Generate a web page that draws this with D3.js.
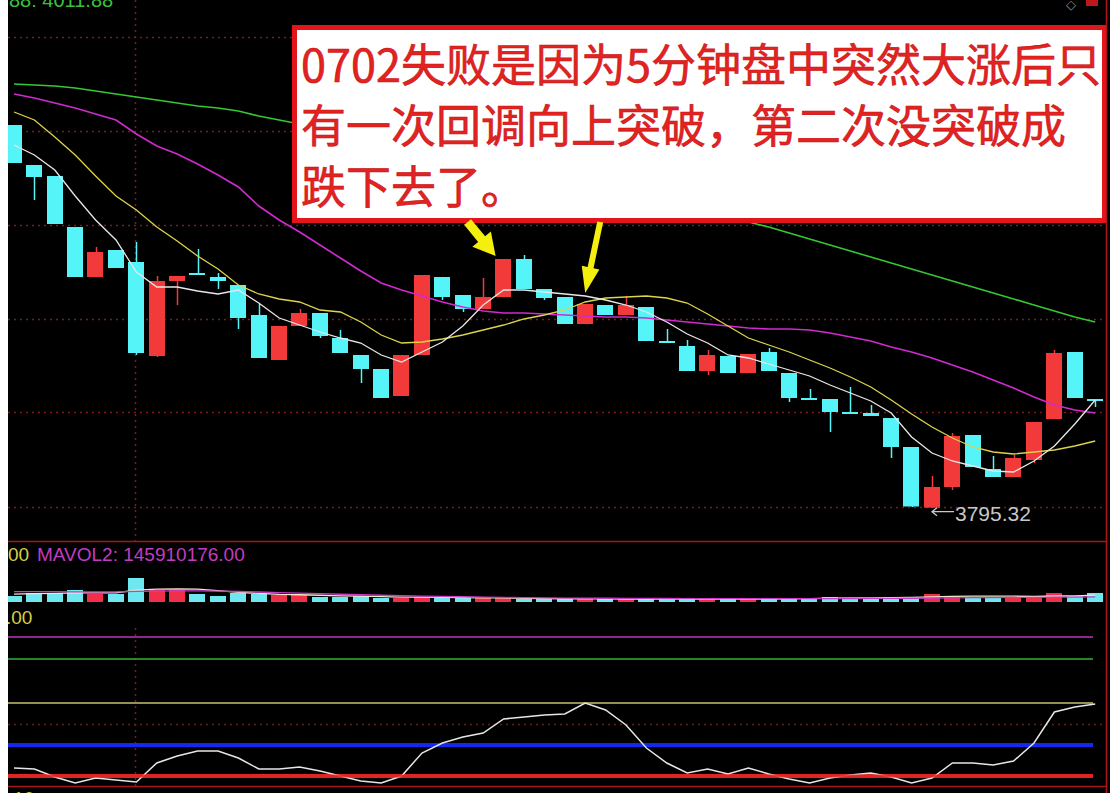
<!DOCTYPE html>
<html><head><meta charset="utf-8">
<script src="https://cdn.jsdelivr.net/npm/d3@7"></script>
<style>html,body{margin:0;padding:0;background:#000;overflow:hidden}</style>
</head><body>
<svg id="c" width="1110" height="793"></svg>
<script>
// ---------- data ----------
const opens  = [4178,4138,4127,4076,4026,4053,4041,3947,4022,4030, 4026,4018,3988,3943,3977,3990,3965,3948,3934,3907,
                3948,4026,4008,3994,4006,4044,4014,4006,3979,3998, 3988,3996,3962,3957,3932,3947,3930,3951,3930,3905,
                3904,3891,3890,3885,3856,3795.32,3816,3868,3834,3826, 3843,3884,3951,3904];
const highs  = [4178,4138,4127,4076,4056,4053,4061,4027,4027,4054, 4030,4018,3999,3977,3994,3990,3973,3948,3934,3948,
                4028,4026,4008,4025,4044,4048,4014,4006,3999,3998, 4007,3996,3974,3963,3953,3947,3949,3955,3930,3914,
                3904,3916,3898,3885,3856,3827,3870,3868,3847,3848, 3881,3953,3951,3904];
const lows   = [4140,4103,4079,4026,4026,4035,3948,3946,3998,4028, 4014,3974,3945,3943,3977,3965,3950,3920,3905,3907,
                3948,4003,3991,3994,4006,4014,4003,3979,3979,3988, 3988,3962,3960,3932,3928,3930,3930,3932,3901,3903,
                3871,3889,3887,3845,3796,3795.32,3813,3836,3826,3826, 3840,3884,3905,3896];
const closes = [4140,4126,4079,4026,4051,4035,3950,4022,4027,4028, 4022,3985,3945,3977,3990,3967,3950,3934,3905,3948,
                4028,4006,3994,4006,4044,4014,4005,3979,3999,3988, 3998,3962,3960,3932,3948,3930,3949,3932,3905,3903,
                3891,3889,3887,3856,3796.5,3816,3867,3836,3826,3845, 3881,3950,3905,3903];
const ma5  = [4158,4148,4133,4107,4083,4063,4031,4016,4016,4012, 4009,4013,4000,3985,3978,3971,3965,3960,3948,3941,
              3951,3961,3977,3998,4013,4013,4011,4009,4007,4003, 3998,3991,3981,3969,3960,3948,3945,3939,3933,3927,
              3918,3910,3902,3890,3866,3850,3842,3837,3832,3831, 3842,3857,3879,3903];
const ma10 = [4191,4183,4166,4148,4127,4107,4093,4076,4062,4047, 4034,4018,4009,4004,4001,3993,3991,3981,3968,3960,
              3961,3964,3968,3973,3978,3984,3988,3993,4001,4005, 4006,4007,4005,4000,3989,3977,3965,3958,3951,3943,
              3935,3926,3916,3903,3889,3876,3865,3856,3851,3849, 3851,3853,3857,3862];
const ma20 = [4209,4205,4200,4195,4189,4183,4169,4157,4149,4139, 4128,4116,4097,4083,4071,4058,4045,4032,4020,4013,
              4007,4001,3996,3992,3990,3990,3989,3988,3987,3986, 3986,3985,3983,3981,3979,3977,3975,3974,3974,3973,
              3970,3966,3962,3956,3951,3945,3938,3931,3923,3915, 3906,3898,3893,3890];
const ma60 = [4219,4218,4217,4215,4212,4209,4206,4203,4200,4197, 4195,4192,4187,4183,4179,4175,4171,4167,4163,4158,
              4154,4150,4145,4141,4136,4132,4127,4122,4117,4112, 4107,4103,4098,4094,4090,4085,4081,4076,4070,4064,
              4058,4052,4046,4040,4034,4028,4022,4016,4010,4004, 3998,3992,3986,3981];
const volumes = [174,261,261,348,232,232,696,348,348,232, 174,261,232,203,203,145,145,174,116,116,
                 145,116,116,116,116,87,87,87,87,87, 87,87,87,87,87,87,87,87,116,116,
                 145,116,116,145,145,232,174,145,145,145, 145,261,174,261];
const mavol1 = [230,240,250,262,265,268,342,371,380,371, 330,280,250,220,210,195,180,170,155,140,
                140,135,125,120,118,108,100,94,90,88, 87,87,87,87,87,87,87,87,93,99,
                110,116,122,128,133,150,163,168,168,168, 160,174,174,197];
const mavol2 = [300,300,298,296,294,292,310,318,322,320, 315,305,290,270,255,240,225,210,195,182,
                172,162,152,142,132,124,118,113,110,108, 106,104,102,100,98,96,95,95,96,97,
                99,101,103,106,109,115,120,125,129,133, 136,140,143,145.9];
const oscValues = [8,7,-1,-7,-2,-4,-6,13,20,25, 25,18,7,7,9,5,0,-5,-7,0,
                   23,33,39,43,57,59,61,62,73,66, 51,28,13,3,7,2,8,2,-3,-7,
                   -2,1,3,-1,-7,-2,13,13,11,15, 33,64,69,72];
const oscLevels = [139,117,73,31,0];
const oscLevelColors = ["#c030c0","#34b034","#c8c070","#1428f0","#e02424"];
const oscLevelWidths = [1.5,1.5,1.5,4,4];
const oscGrid = 52;
const gridPrices = [4266,4172,4078,3984,3891,3796];
const noteLines = ["0702失败是因为5分钟盘中突然大涨后只","有一次回调向上突破，第二次没突破成","跌下去了。"];
const lowLabel = "3795.32";
const topLabel = "88: 4011.88";
const volTitle = "MAVOL2: 145910176.00";

// ---------- drawing ----------
const svg = d3.select('#c');
const n = opens.length;
svg.append('rect').attr('width',1110).attr('height',793).attr('fill','#000');

const x = d3.scaleBand().domain(d3.range(n)).range([3.8,1105.4]).paddingInner(0.2).paddingOuter(0.1);
const xc = i => x(i) + x.bandwidth()/2;
const y = d3.scaleLinear().domain([3762,4303]).range([541,0]);
const vy = d3.scaleLinear().domain([0,1000]).range([602,567.5]);
const oy = d3.scaleLinear().domain([-10,156]).range([786,620]);

const defs = svg.append('defs');
defs.append('clipPath').attr('id','mainclip').append('rect').attr('x',8).attr('y',0).attr('width',1098).attr('height',541);

const gridCol = '#7a1c1c';
// main grid
const main = svg.append('g').attr('clip-path','url(#mainclip)');
main.selectAll('line.g').data(gridPrices).join('line')
  .attr('x1',8).attr('x2',1106).attr('y1',d=>Math.round(y(d))+0.5).attr('y2',d=>Math.round(y(d))+0.5)
  .attr('stroke',gridCol).attr('stroke-width',1.5).attr('stroke-dasharray','2 4');
main.append('line').attr('x1',135.5).attr('x2',135.5).attr('y1',0).attr('y2',541)
  .attr('stroke',gridCol).attr('stroke-width',1.5).attr('stroke-dasharray','2 4');

const up = i => closes[i] >= opens[i];
const CY = '#54f4f8', RD = '#f23a3a';
const cg = main.append('g');
cg.selectAll('line.w').data(d3.range(n)).join('line')
  .attr('x1',i=>Math.round(xc(i))+0.5).attr('x2',i=>Math.round(xc(i))+0.5)
  .attr('y1',i=>y(highs[i])).attr('y2',i=>y(lows[i]))
  .attr('stroke',i=>up(i)?RD:CY).attr('stroke-width',1.5);
cg.selectAll('rect.b').data(d3.range(n)).join('rect')
  .attr('x',i=>Math.round(x(i))).attr('width',Math.round(x.bandwidth()))
  .attr('y',i=>y(Math.max(opens[i],closes[i])))
  .attr('height',i=>Math.max(2,Math.abs(y(opens[i])-y(closes[i]))))
  .attr('fill',i=>up(i)?RD:CY);

const line = arr => d3.line().x((d,i)=>xc(i)).y(d=>y(d))(arr);
main.append('path').attr('d',line(ma60)).attr('fill','none').attr('stroke','#34c834').attr('stroke-width',1.6);
main.append('path').attr('d',line(ma20)).attr('fill','none').attr('stroke','#d02ad0').attr('stroke-width',1.6);
main.append('path').attr('d',line(ma10)).attr('fill','none').attr('stroke','#dcd44a').attr('stroke-width',1.3);
main.append('path').attr('d',line(ma5)).attr('fill','none').attr('stroke','#e8e8e8').attr('stroke-width',1.3);

// top partial label
svg.append('text').attr('x',9).attr('y',7).attr('fill','#3cc03c')
  .attr('font-family','Liberation Sans, Arial, sans-serif').attr('font-size',20).text(topLabel);

// annotation box
svg.append('rect').attr('x',294.5).attr('y',27.5).attr('width',810).attr('height',193)
  .attr('fill','#ffffff').attr('stroke','#e3141a').attr('stroke-width',5);
svg.selectAll('text.note').data(noteLines).join('text')
  .attr('x',301).attr('y',(d,i)=>62+i*61).attr('dominant-baseline','central')
  .attr('font-family','Noto Sans CJK SC, sans-serif').attr('font-size',45)
  .attr('fill','#e2231f').attr('stroke','#c8141a').attr('stroke-width',0.6)
  .text(d=>d);

// arrows pointing at candles 25 and 29
function arrow(tail, tip, sw, hw, hl){
  const dx=tip[0]-tail[0], dy=tip[1]-tail[1], L=Math.hypot(dx,dy);
  const ux=dx/L, uy=dy/L, px=-uy, py=ux;
  const bx=tip[0]-ux*hl, by=tip[1]-uy*hl;
  const pts=[[tail[0]+px*sw,tail[1]+py*sw],[bx+px*sw,by+py*sw],[bx+px*hw,by+py*hw],tip,
             [bx-px*hw,by-py*hw],[bx-px*sw,by-py*sw],[tail[0]-px*sw,tail[1]-py*sw]];
  svg.append('polygon').attr('points',pts.map(p=>p.join(',')).join(' ')).attr('fill','#f4ef0c');
}
const tip1=[xc(24)-8, y(highs[24])-3];
arrow([tip1[0]-28, tip1[1]-34], tip1, 4.5, 12, 22);
const tip2=[xc(28), y(highs[28])-11];
arrow([tip2[0]+15, tip2[1]-71], tip2, 3, 9, 26);

// low label
const lx = xc(45), ly = y(3795.32);
const lg = svg.append('g').attr('stroke','#c8c8c8').attr('stroke-width',1.3).attr('fill','none');
lg.append('path').attr('d',`M${lx+22},${ly+4} L${lx},${ly+4} M${lx+5},${ly} L${lx},${ly+4} L${lx+5},${ly+8}`);
svg.append('text').attr('x',lx+23).attr('y',ly+13).attr('fill','#c8c8c8')
  .attr('font-family','Liberation Sans, Arial, sans-serif').attr('font-size',21).text(lowLabel);

// panel separators
svg.append('line').attr('x1',8).attr('x2',1106).attr('y1',541.5).attr('y2',541.5).attr('stroke','#a8161a').attr('stroke-width',1.5);

// volume panel
svg.append('text').attr('x',8).attr('y',561).attr('fill','#d6d040')
  .attr('font-family','Liberation Sans, Arial, sans-serif').attr('font-size',19).text('00');
svg.append('text').attr('x',37).attr('y',561).attr('fill','#c23cc2')
  .attr('font-family','Liberation Sans, Arial, sans-serif').attr('font-size',19).text(volTitle);
svg.selectAll('rect.v').data(d3.range(n)).join('rect')
  .attr('x',i=>Math.round(x(i))).attr('width',Math.round(x.bandwidth()))
  .attr('y',i=>vy(volumes[i])).attr('height',i=>vy(0)-vy(volumes[i]))
  .attr('fill',i=>up(i)?'#f0304a':'#6ee8f0');
const vline = arr => d3.line().x((d,i)=>xc(i)).y(d=>vy(d))(arr);
svg.append('path').attr('d',vline(mavol1)).attr('fill','none').attr('stroke','#f0e8c8').attr('stroke-width',1.3);
svg.append('path').attr('d',vline(mavol2)).attr('fill','none').attr('stroke','#c83cc8').attr('stroke-width',1.3);

// indicator panel
svg.append('text').attr('x',6).attr('y',624).attr('fill','#d6d040')
  .attr('font-family','Liberation Sans, Arial, sans-serif').attr('font-size',19).text('.00');
svg.append('line').attr('x1',8).attr('x2',1106).attr('y1',Math.round(oy(oscGrid))+0.5).attr('y2',Math.round(oy(oscGrid))+0.5)
  .attr('stroke','#5a2418').attr('stroke-width',1.5).attr('stroke-dasharray','2 4');
svg.append('line').attr('x1',135.5).attr('x2',135.5).attr('y1',628).attr('y2',786)
  .attr('stroke',gridCol).attr('stroke-width',1.5).attr('stroke-dasharray','2 4');
const lv = svg.selectAll('line.lv').data(oscLevels).join('line')
  .attr('x1',8).attr('x2',1093).attr('y1',d=>oy(d)).attr('y2',d=>oy(d))
  .attr('stroke',(d,i)=>oscLevelColors[i]).attr('stroke-width',(d,i)=>oscLevelWidths[i]);
svg.append('path').attr('d',d3.line().x((d,i)=>xc(i)).y(d=>oy(d))(oscValues))
  .attr('fill','none').attr('stroke','#e6e6e6').attr('stroke-width',1.5);
// red level re-drawn above the oscillator line as in the picture
svg.append('line').attr('x1',8).attr('x2',1093).attr('y1',oy(0)).attr('y2',oy(0))
  .attr('stroke','#e02424').attr('stroke-width',3).attr('opacity',0.85);
svg.append('line').attr('x1',8).attr('x2',1106).attr('y1',786.5).attr('y2',786.5).attr('stroke','#a8161a').attr('stroke-width',1.5);
svg.append('text').attr('x',8).attr('y',805).attr('fill','#d6d040')
  .attr('font-family','Liberation Sans, Arial, sans-serif').attr('font-size',19).text('.10');

// right frame
svg.append('line').attr('x1',1106.5).attr('x2',1106.5).attr('y1',0).attr('y2',793).attr('stroke','#b0141a').attr('stroke-width',1.5);
svg.append('text').attr('x',1066).attr('y',9).attr('fill','#909090').attr('font-size',13).text('◇');
svg.append('rect').attr('x',1086).attr('y',0).attr('width',12).attr('height',6).attr('fill','#c01818');

// left white strip
svg.append('rect').attr('x',0).attr('y',0).attr('width',8).attr('height',793).attr('fill','#ffffff');
</script>
</body></html>
